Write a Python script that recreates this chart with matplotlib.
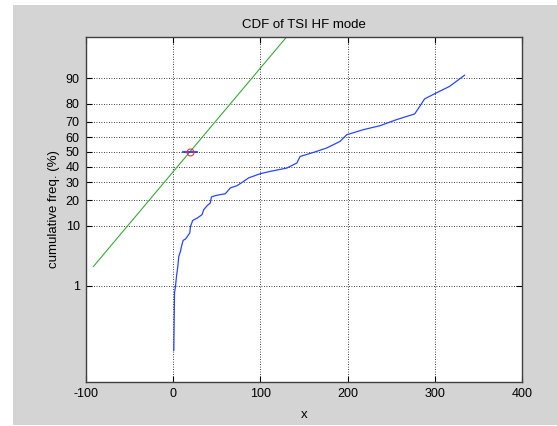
"""CDF of TSI HF mode on a normal-probability scale"""

from statistics import NormalDist

import matplotlib
matplotlib.use("Agg")
import matplotlib.pyplot as plt
from matplotlib.patches import Rectangle

plt.rcParams["font.family"] = ["Liberation Sans", "DejaVu Sans"]
plt.rcParams["axes.unicode_minus"] = False

# empirical CDF (x, cumulative freq. in %)
cdf_x = [0.7, 1.5, 2.6, 3.8, 5.3, 6.4, 8.3, 9.5, 11.4, 14.1, 19.0, 19.8, 22.4,
         27.4, 33.1, 35.0, 38.9, 42.6, 43.8, 48.3, 56.0, 59.8, 65.5, 73.1, 78.9,
         86.4, 99.8, 111.2, 130.3, 141.8, 145.5, 160.8, 176.1, 191.3, 199.0,
         218.0, 236.9, 256.0, 276.9, 282.7, 288.3, 301.7, 316.9, 334.1]
cdf_pct = [0.028, 0.71, 0.97, 1.53, 2.33, 3.47, 4.19, 5.03, 6.21, 6.51, 7.94, 9.78,
           11.7, 12.5, 13.8, 15.8, 17.5, 18.8, 21.7, 22.4, 23.1, 23.4, 26.6, 27.9,
           29.8, 32.6, 35.3, 36.8, 39.0, 42.4, 46.9, 49.7, 52.8, 57.3, 61.8, 65.1,
           67.6, 71.3, 74.6, 78.6, 82.2, 84.8, 87.3, 90.9]

# fitted normal reference line
fit_mu = 19.0
fit_sigma = 55.5
fit_x = [-91.6, 140.0]

# median marker with its interval
median_x = 19.0
median_ci = [10.7, 27.5]

prob_ticks = [1, 10, 20, 30, 40, 50, 60, 70, 80, 90]
x_ticks = [-100, 0, 100, 200, 300, 400]

nd = NormalDist()


def to_z(pcts):
    return [nd.inv_cdf(p / 100.0) for p in pcts]


W, H = 557, 426
fig = plt.figure(figsize=(W / 100, H / 100), dpi=100, facecolor="white")
fig.add_artist(Rectangle((13 / W, 1 / H), (W - 13) / W, 420 / H,
                         transform=fig.transFigure, facecolor="#d4d4d4",
                         edgecolor="none", zorder=-5))

ax = fig.add_axes([86 / W, 44 / H, 436 / W, 345 / H])
ax.set_facecolor("white")

fit_z = [(x - fit_mu) / fit_sigma for x in fit_x]
ax.plot(fit_x, fit_z, color="#3aa83a", lw=0.8)
ax.plot(cdf_x, to_z(cdf_pct), color="#2846ff", lw=0.9)
ax.plot(median_ci, [0, 0], color="#1030ff", lw=1.2)
ax.plot([median_x], [0], marker="o", ms=5, mfc="none", mec="#ff2a2a", mew=0.8)

ax.set_xlim(-100, 400)
ax.set_ylim(-4, 2)
ax.set_xticks(x_ticks)
ax.set_yticks(to_z(prob_ticks))
ax.set_yticklabels([str(p) for p in prob_ticks])

ax.grid(True, color="black", linestyle=(0, (1, 2)), lw=0.6)
ax.tick_params(direction="in", top=True, right=True, length=4, width=0.8,
               labelsize=9, pad=4.5)
for s in ax.spines.values():
    s.set_color("#404040")
    s.set_linewidth(1.0)

ax.set_title("CDF of TSI HF mode", fontsize=9.5, pad=6.5)
ax.set_xlabel("x", fontsize=9.5, labelpad=6)
ax.set_ylabel("cumulative freq. (%)", fontsize=9.5, labelpad=4)

fig.savefig("out.png", dpi=100, facecolor=fig.get_facecolor())
plt.close(fig)
